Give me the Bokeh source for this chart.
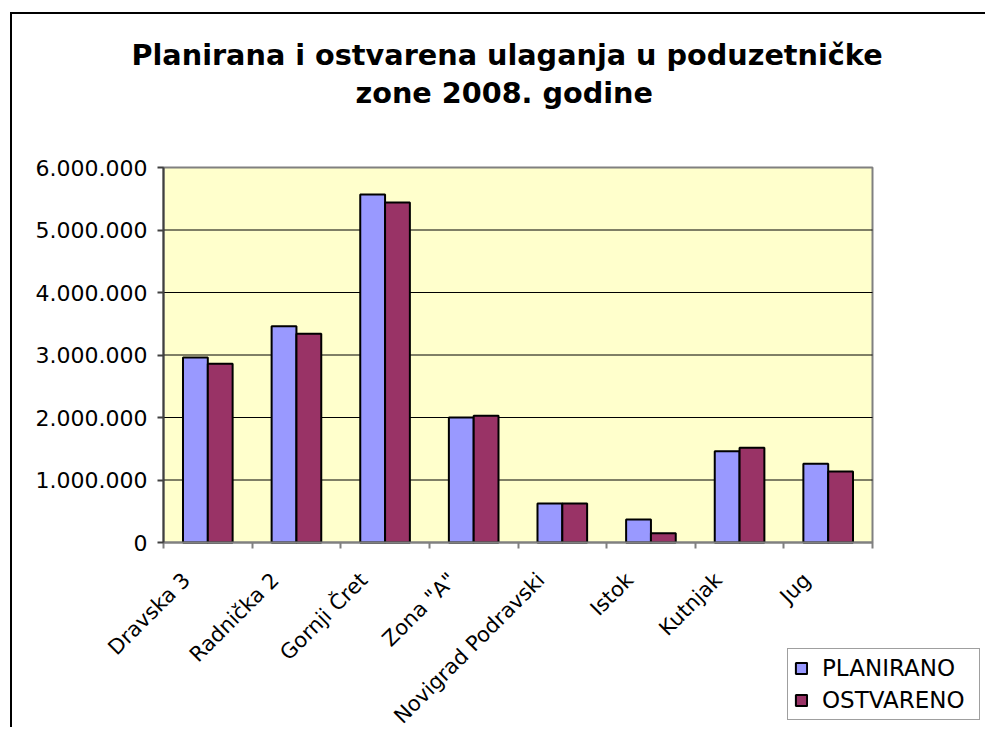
import math
from bokeh.plotting import figure
from bokeh.models import ColumnDataSource, FixedTicker, Legend, LegendItem, Title, Range1d
from bokeh.transform import dodge
from bokeh.embed import file_html
from bokeh.resources import INLINE

categories = ["Dravska 3", "Radnička 2", "Gornji Čret", 'Zona "A"',
              "Novigrad Podravski", "Istok", "Kutnjak", "Jug"]
planirano = [2960000, 3460000, 5570000, 2000000, 625000, 370000, 1460000, 1260000]
ostvareno = [2860000, 3340000, 5440000, 2030000, 625000, 150000, 1515000, 1135000]
series_names = ["PLANIRANO", "OSTVARENO"]
series_fields = ["planirano", "ostvareno"]
series_colors = ["#9999FF", "#993366"]
y_ticks = [0, 1000000, 2000000, 3000000, 4000000, 5000000, 6000000]
y_tick_labels = ["0", "1.000.000", "2.000.000", "3.000.000", "4.000.000", "5.000.000", "6.000.000"]
title_lines = ["Planirana i ostvarena ulaganja u poduzetničke", "zone 2008. godine"]

FONT = "DejaVu Sans"
n = len(categories)
y_max = y_ticks[-1]

# page geometry (pixels): the frame covers the whole canvas below the title,
# the axes are pinned at x=0 / y=0 so the legend can sit inside the frame
W, H = 975, 715
CANVAS_L, CANVAS_T = 12, 14
AREA_L, AREA_R, AREA_T, AREA_B = 163, 872, 167, 542
FRAME_T = 152
TOP_BORDER = FRAME_T - CANVAS_T
FRAME_L, FRAME_R, FRAME_B = CANVAS_L, CANVAS_L + W, CANVAS_T + H
xpp = n / (AREA_R - AREA_L)
ypp = y_max / (AREA_B - AREA_T)
x_range = Range1d(-(AREA_L - FRAME_L) * xpp, n + (FRAME_R - AREA_R) * xpp)
y_range = Range1d(-(FRAME_B - AREA_B) * ypp, y_max + (AREA_T - FRAME_T) * ypp)

centers = [i + 0.5 for i in range(n)]
label_pos = [c - 0.24 for c in centers]
src = ColumnDataSource(dict(x=centers, planirano=planirano, ostvareno=ostvareno))

p = figure(width=W, height=H, x_range=x_range, y_range=y_range,
           output_backend="svg", toolbar_location=None,
           min_border_left=0, min_border_top=TOP_BORDER, min_border_right=0, min_border_bottom=0)
p.styles = {"margin-left": "10px", "margin-top": "12px",
            "border-left": "2px solid black", "border-top": "2px solid black"}
p.background_fill_color = "white"
p.border_fill_color = "white"
p.outline_line_color = None
p.xgrid.grid_line_color = None
p.ygrid.grid_line_color = None

# plot area
p.quad(left=0, right=n, bottom=y_ticks[0], top=y_max,
       fill_color="#FFFFCC", line_color="#808080", line_width=2)
# horizontal gridlines
inner = y_ticks[1:-1]
p.segment(x0=[0] * len(inner), x1=[n] * len(inner), y0=inner, y1=inner,
          line_color="black", line_width=1)

offsets = [-0.14, 0.14]
bars = []
for field, col, off in zip(series_fields, series_colors, offsets):
    bars.append(p.vbar(x=dodge("x", off), top=field, width=0.28, source=src,
                       fill_color=col, line_color="black", line_width=2))

# x axis, pinned at y = 0
xa = p.xaxis[0]
xa.fixed_location = 0
xa.bounds = (0, n)
xa.ticker = FixedTicker(ticks=label_pos, minor_ticks=list(range(n + 1)))
xa.major_label_overrides = {c: name for c, name in zip(label_pos, categories)}
xa.major_tick_line_color = None
xa.minor_tick_in = 0
xa.minor_tick_out = 6
xa.minor_tick_line_color = "#808080"
xa.minor_tick_line_width = 2
xa.axis_line_color = "#808080"
xa.axis_line_width = 2
xa.major_label_orientation = math.pi / 4
xa.major_label_text_font = FONT
xa.major_label_text_font_size = "21px"
xa.major_label_text_color = "black"
xa.major_label_standoff = 28

# y axis, pinned at x = 0
ya = p.yaxis[0]
ya.fixed_location = 0
ya.bounds = (y_ticks[0], y_max)
ya.ticker = FixedTicker(ticks=y_ticks, minor_ticks=[])
ya.major_label_overrides = {t: l for t, l in zip(y_ticks, y_tick_labels)}
ya.major_tick_in = 0
ya.major_tick_out = 6
ya.major_tick_line_color = "#404040"
ya.major_tick_line_width = 2
ya.axis_line_color = "#404040"
ya.axis_line_width = 2
ya.major_label_text_font = FONT
ya.major_label_text_font_size = "22px"
ya.major_label_text_color = "black"
ya.major_label_standoff = 10

# title (two lines); the added Title sits nearest the frame
d = AREA_T - FRAME_T
p.title.text = title_lines[0]
p.title.align = "left"
p.title.offset = 131 - FRAME_L
p.title.text_font = FONT
p.title.text_font_size = "28.7px"
p.title.text_font_style = "bold"
p.title.text_color = "black"
p.title.standoff = -112 + 2 * d
t2 = Title(text=title_lines[1], align="left", offset=355 - FRAME_L,
           text_font=FONT, text_font_size="28.7px", text_font_style="bold",
           text_color="black", standoff=116 - 2 * d)
p.add_layout(t2, "above")

legend = Legend(items=[LegendItem(label=nm, renderers=[r]) for nm, r in zip(series_names, bars)],
                location=(787 - FRAME_L, FRAME_B - 720))
legend.label_text_font = FONT
legend.label_text_font_size = "23px"
legend.label_text_color = "black"
legend.border_line_color = "#404040"
legend.border_line_width = 1
legend.background_fill_color = "white"
legend.background_fill_alpha = 1
legend.glyph_width = 14
legend.glyph_height = 14
legend.label_height = 26
legend.label_width = 151
legend.spacing = 6
legend.padding = 6
legend.margin = 0
legend.label_standoff = 14
p.add_layout(legend, "center")

open("out.html", "w").write(file_html(p, INLINE))
